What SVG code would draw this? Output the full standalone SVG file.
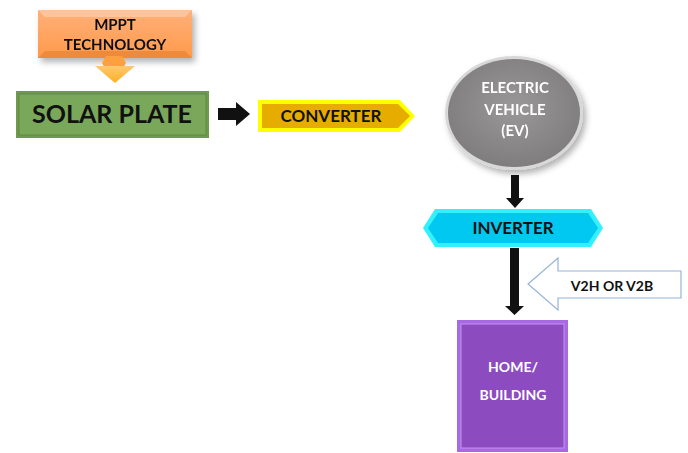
<svg xmlns="http://www.w3.org/2000/svg" width="688" height="453" viewBox="0 0 688 453">
<style>
text{font-family:Lato,"Open Sans","Liberation Sans",sans-serif;font-weight:bold;text-anchor:middle}
.dk{fill:#111}
.wt{fill:#fff}
</style>
<defs>
<linearGradient id="gO" x1="0" y1="0" x2="0" y2="1"><stop offset="0" stop-color="#ffb07a"/><stop offset="1" stop-color="#ff9a4a"/></linearGradient>
<linearGradient id="gA" x1="0" y1="0" x2="0" y2="1"><stop offset="0" stop-color="#ffc870"/><stop offset="1" stop-color="#ffb020"/></linearGradient>
<radialGradient id="gE" cx="0.5" cy="0.45" r="0.55"><stop offset="0" stop-color="#9a9898"/><stop offset="1" stop-color="#7f7d7d"/></radialGradient>
<filter id="sh" x="-20%" y="-20%" width="150%" height="160%"><feDropShadow dx="3" dy="4" stdDeviation="3" flood-color="#000" flood-opacity="0.3"/></filter>
</defs>
<g id="connectors">
<polygon points="218,108 236,108 236,102 250,114 236,126 236,120 218,120" fill="#111"/>
<polygon points="511,175 519,175 519,198 524,198 515,208 506,198 511,198" fill="#111"/>
<polygon points="510,248 519,248 519,306 524,306 514.5,315 505,306 510,306" fill="#111"/>
</g>
<g id="mppt" filter="url(#sh)">
<rect x="38" y="10" width="154" height="48" fill="url(#gO)"/>
<polygon points="38,10 192,10 185,17 45,17" fill="#ffc49a"/>
<polygon points="38,58 192,58 185,51 45,51" fill="#f08a3a"/>
<text x="115" y="30" font-size="15" class="dk">MPPT</text>
<text x="115" y="50" font-size="15" class="dk">TECHNOLOGY</text>
</g>
<g id="mppt-arrow">
<polygon points="106,56 122,56 126,63 122,70 106,70 102,63" fill="#ffa040"/>
<polygon points="95,66 135,66 115,83" fill="url(#gA)"/>
</g>
<g id="solar">
<rect x="16" y="91" width="193" height="47" fill="#6f9a4e"/>
<rect x="19" y="94" width="187" height="41" fill="#7aa85a" stroke="#5f8a40" stroke-width="1"/>
<text x="112" y="123" font-size="25" class="dk">SOLAR PLATE</text>
</g>
<g id="converter">
<polygon points="258,100 400,100 415,116 400,132 258,132" fill="#ffff00"/>
<polygon points="262,104 398,104 410,116 398,128 262,128" fill="#e6ad00"/>
<text x="331" y="122" font-size="17" class="dk">CONVERTER</text>
</g>
<g id="ev" filter="url(#sh)">
<ellipse cx="514" cy="113" rx="69" ry="57" fill="#d8d8d8"/>
<ellipse cx="514" cy="113" rx="66" ry="54" fill="url(#gE)"/>
<text x="515" y="93" font-size="15" class="wt">ELECTRIC</text>
<text x="515" y="115" font-size="15" class="wt">VEHICLE</text>
<text x="515" y="136" font-size="15" class="wt">(EV)</text>
</g>
<g id="inverter">
<polygon points="423,228 435,209 591,209 603,228 591,247 435,247" fill="#33f0ff"/>
<polygon points="428,228 438,213 588,213 598,228 588,243 438,243" fill="#00c8f0"/>
<text x="513" y="234" font-size="17" class="dk">INVERTER</text>
</g>
<g id="v2h">
<polygon points="528,284 558,258 558,271 681,271 681,298 558,298 558,310" fill="#fff" stroke="#95b3d7" stroke-width="1.2"/>
<text x="612" y="291" font-size="14" class="dk">V2H OR V2B</text>
</g>
<g id="home">
<rect x="457" y="320" width="111" height="132" fill="#a86ae0"/>
<rect x="461" y="324" width="103" height="124" fill="#8c4cc0" stroke="#c590f0" stroke-width="1"/>
<text x="513" y="372" font-size="14" class="wt">HOME/</text>
<text x="513" y="400" font-size="14" class="wt">BUILDING</text>
</g>
</svg>
